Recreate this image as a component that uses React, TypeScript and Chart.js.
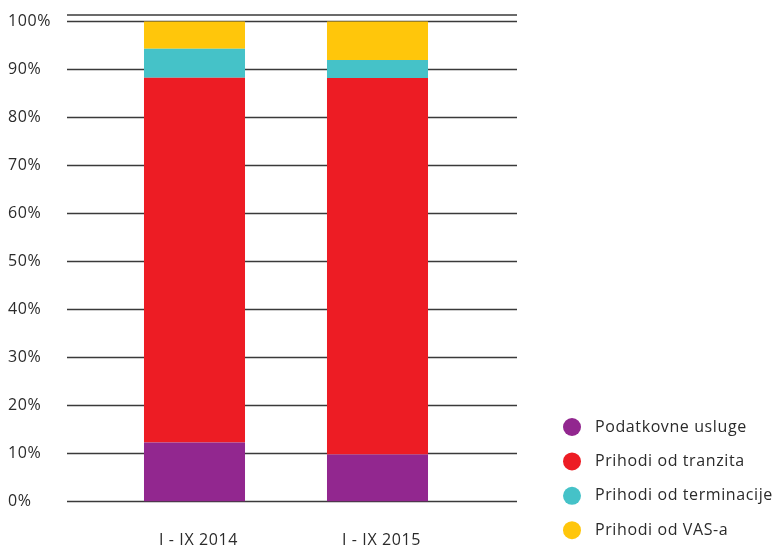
import React, { useEffect, useRef } from 'react';
import { Chart, registerables } from 'chart.js';

Chart.register(...registerables);

const categories = ['I - IX 2014', 'I - IX 2015'];
const seriesNames = ['Podatkovne usluge', 'Prihodi od tranzita', 'Prihodi od terminacije', 'Prihodi od VAS-a'];
const podatkovneUsluge = [12.3, 9.8];
const prihodiTranzit = [76.0, 78.4];
const prihodiTerminacija = [6.0, 3.8];
const prihodiVas = [5.7, 8.0];
const seriesColors = ['#92278F', '#ED1C24', '#45C2C8', '#FFC60B'];
const yMax = 101.35;
const yStep = 10;

const FONT = '"Open Sans", sans-serif';
const TEXT = '#2b2b2b';
const SPACING = '0.6px';

const spacingPlugin = {
  id: 'letterSpacing',
  beforeDraw(chart: any) {
    chart.ctx.letterSpacing = SPACING;
  },
};

const gridPlugin = {
  id: 'extGrid',
  beforeDatasetsDraw(chart: any) {
    const { ctx, chartArea, scales } = chart;
    const y = scales.y;
    const left = chartArea.left - 36;
    const right = chartArea.right + 48;
    const ys: number[] = y.ticks.map((t: any) => y.getPixelForValue(t.value));
    ys.push(chartArea.top);
    ctx.save();
    ctx.strokeStyle = '#3a3a3a';
    ctx.lineWidth = 1.5;
    ys.forEach((py) => {
      ctx.beginPath();
      ctx.moveTo(left, py);
      ctx.lineTo(right, py);
      ctx.stroke();
    });
    ctx.restore();
  },
};

const legendPlugin = {
  id: 'customLegend',
  afterDraw(chart: any) {
    const { ctx, chartArea } = chart;
    const cx = chartArea.right + 103;
    const startY = 427;
    const gap = 34.4;
    ctx.save();
    ctx.letterSpacing = SPACING;
    chart.data.datasets.forEach((ds: any, i: number) => {
      const cy = startY + i * gap;
      ctx.beginPath();
      ctx.arc(cx, cy, 9, 0, Math.PI * 2);
      ctx.fillStyle = ds.backgroundColor;
      ctx.fill();
      ctx.fillStyle = TEXT;
      ctx.font = `16px ${FONT}`;
      ctx.textBaseline = 'middle';
      ctx.textAlign = 'left';
      ctx.fillText(ds.label, cx + 23, cy);
    });
    ctx.restore();
  },
};

export default function App() {
  const ref = useRef<HTMLCanvasElement>(null);

  useEffect(() => {
    if (!ref.current) return;
    const values = [podatkovneUsluge, prihodiTranzit, prihodiTerminacija, prihodiVas];
    const chart = new Chart(ref.current, {
      type: 'bar',
      data: {
        labels: categories,
        datasets: seriesNames.map((name, i) => ({
          label: name,
          data: values[i],
          backgroundColor: seriesColors[i],
          borderWidth: 0,
          categoryPercentage: 1,
          barPercentage: 0.552,
        })),
      },
      options: {
        responsive: false,
        animation: false,
        devicePixelRatio: 1,
        layout: { padding: { left: 8, right: 305, top: 15, bottom: 0 } },
        plugins: {
          legend: { display: false },
          tooltip: { enabled: false },
        },
        scales: {
          x: {
            stacked: true,
            grid: { display: false, drawTicks: false },
            border: { display: false },
            ticks: { color: TEXT, font: { family: FONT, size: 16 }, padding: 29, labelOffset: 4 },
            afterFit: (s: any) => { s.height = 47.5; },
          },
          y: {
            stacked: true,
            min: 0,
            max: yMax,
            grid: { display: false, drawTicks: false },
            border: { display: false },
            ticks: {
              stepSize: yStep,
              includeBounds: false,
              crossAlign: 'far',
              color: TEXT,
              font: { family: FONT, size: 16 },
              callback: (v: any) => (Number(v) % 10 === 0 ? `${v}%` : ''),
            },
            afterFit: (s: any) => { s.width = 95; },
          },
        },
      },
      plugins: [spacingPlugin, gridPlugin, legendPlugin],
    } as any);
    return () => chart.destroy();
  }, []);

  return (
    <div style={{ position: 'absolute', left: 0, top: 0, width: 774, height: 549, background: '#fff' }}>
      <canvas ref={ref} width={774} height={549} />
    </div>
  );
}
